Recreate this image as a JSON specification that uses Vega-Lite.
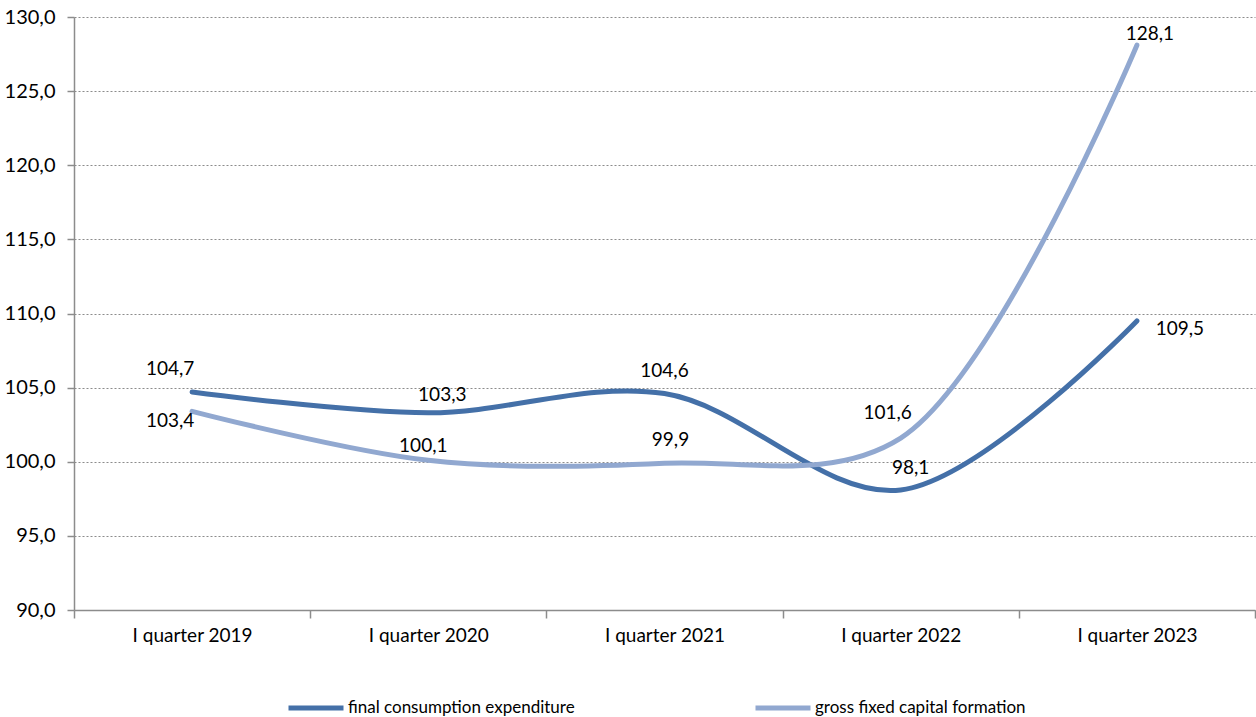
{
  "$schema": "https://vega.github.io/schema/vega-lite/v6.json",
  "width": 1181,
  "height": 593,
  "autosize": {"type": "none"},
  "padding": {"left": 74, "top": 17, "right": 1, "bottom": 107},
  "config": {
    "locale": {"number": {"decimal": ",", "thousands": ".", "grouping": [3], "currency": ["", " €"]}},
    "font": "Lato",
    "view": {"stroke": null},
    "axis": {"labelFont": "Lato", "labelColor": "#000000", "domainColor": "#8c8c8c", "tickColor": "#8c8c8c", "domainWidth": 1.5, "tickWidth": 1.5, "title": null}
  },
  "data": {
    "values": [
      {"quarter": "I quarter 2019", "series": "final consumption expenditure", "value": 104.7},
      {"quarter": "I quarter 2020", "series": "final consumption expenditure", "value": 103.3},
      {"quarter": "I quarter 2021", "series": "final consumption expenditure", "value": 104.6},
      {"quarter": "I quarter 2022", "series": "final consumption expenditure", "value": 98.1},
      {"quarter": "I quarter 2023", "series": "final consumption expenditure", "value": 109.5},
      {"quarter": "I quarter 2019", "series": "gross fixed capital formation", "value": 103.4},
      {"quarter": "I quarter 2020", "series": "gross fixed capital formation", "value": 100.1},
      {"quarter": "I quarter 2021", "series": "gross fixed capital formation", "value": 99.9},
      {"quarter": "I quarter 2022", "series": "gross fixed capital formation", "value": 101.6},
      {"quarter": "I quarter 2023", "series": "gross fixed capital formation", "value": 128.1}
    ]
  },
  "encoding": {
    "x": {
      "field": "quarter", "type": "nominal", "sort": null,
      "scale": {"type": "band", "paddingInner": 0, "paddingOuter": 0},
      "axis": {"labelAngle": 0, "tickBand": "extent", "tickSize": 8, "labelPadding": 8, "grid": false, "labelFontSize": 19}
    },
    "y": {
      "field": "value", "type": "quantitative",
      "scale": {"domain": [90, 130], "nice": false, "zero": false},
      "axis": {"values": [90, 95, 100, 105, 110, 115, 120, 125, 130], "format": ".1f", "tickSize": 7, "labelPadding": 12, "labelFontSize": 20,
        "grid": true, "gridColor": "#8c8c8c", "gridDash": [2, 2], "gridWidth": 1.2}
    }
  },
  "layer": [
    {
      "mark": {"type": "line", "interpolate": "catmull-rom", "strokeWidth": 5, "strokeCap": "round"},
      "encoding": {
        "color": {
          "field": "series", "type": "nominal",
          "scale": {"domain": ["final consumption expenditure", "gross fixed capital formation"], "range": ["#4470a8", "#91a8d0"]},
          "legend": {
            "title": null, "orient": "none", "direction": "horizontal", "legendX": 212, "legendY": 661,
            "symbolType": "stroke", "symbolSize": 3025, "symbolStrokeWidth": 5, "symbolOffset": 0,
            "labelOffset": 2, "labelFontSize": 17, "labelFont": "Lato", "labelColor": "#000000",
            "columnPadding": 170, "padding": 0, "labelLimit": 400
          }
        }
      }
    },
    {
      "transform": [{"filter": "datum.series == 'final consumption expenditure' && datum.quarter == 'I quarter 2019'"}],
      "mark": {"type": "text", "fontSize": 19, "dx": -22, "dy": -23, "color": "#000000"},
      "encoding": {"text": {"field": "value", "type": "quantitative", "format": ".1f"}}
    },
    {
      "transform": [{"filter": "datum.series == 'gross fixed capital formation' && datum.quarter == 'I quarter 2019'"}],
      "mark": {"type": "text", "fontSize": 19, "dx": -22, "dy": 10, "color": "#000000"},
      "encoding": {"text": {"field": "value", "type": "quantitative", "format": ".1f"}}
    },
    {
      "transform": [{"filter": "datum.series == 'final consumption expenditure' && datum.quarter == 'I quarter 2020'"}],
      "mark": {"type": "text", "fontSize": 19, "dx": 14, "dy": -18, "color": "#000000"},
      "encoding": {"text": {"field": "value", "type": "quantitative", "format": ".1f"}}
    },
    {
      "transform": [{"filter": "datum.series == 'gross fixed capital formation' && datum.quarter == 'I quarter 2020'"}],
      "mark": {"type": "text", "fontSize": 19, "dx": -5, "dy": -14, "color": "#000000"},
      "encoding": {"text": {"field": "value", "type": "quantitative", "format": ".1f"}}
    },
    {
      "transform": [{"filter": "datum.series == 'final consumption expenditure' && datum.quarter == 'I quarter 2021'"}],
      "mark": {"type": "text", "fontSize": 19, "dx": 0, "dy": -23, "color": "#000000"},
      "encoding": {"text": {"field": "value", "type": "quantitative", "format": ".1f"}}
    },
    {
      "transform": [{"filter": "datum.series == 'gross fixed capital formation' && datum.quarter == 'I quarter 2021'"}],
      "mark": {"type": "text", "fontSize": 19, "dx": 6, "dy": -23, "color": "#000000"},
      "encoding": {"text": {"field": "value", "type": "quantitative", "format": ".1f"}}
    },
    {
      "transform": [{"filter": "datum.series == 'final consumption expenditure' && datum.quarter == 'I quarter 2022'"}],
      "mark": {"type": "text", "fontSize": 19, "dx": 10, "dy": -22, "color": "#000000"},
      "encoding": {"text": {"field": "value", "type": "quantitative", "format": ".1f"}}
    },
    {
      "transform": [{"filter": "datum.series == 'gross fixed capital formation' && datum.quarter == 'I quarter 2022'"}],
      "mark": {"type": "text", "fontSize": 19, "dx": -13, "dy": -25, "color": "#000000"},
      "encoding": {"text": {"field": "value", "type": "quantitative", "format": ".1f"}}
    },
    {
      "transform": [{"filter": "datum.series == 'final consumption expenditure' && datum.quarter == 'I quarter 2023'"}],
      "mark": {"type": "text", "fontSize": 19, "dx": 43, "dy": 8, "color": "#000000"},
      "encoding": {"text": {"field": "value", "type": "quantitative", "format": ".1f"}}
    },
    {
      "transform": [{"filter": "datum.series == 'gross fixed capital formation' && datum.quarter == 'I quarter 2023'"}],
      "mark": {"type": "text", "fontSize": 19, "dx": 13, "dy": -11, "color": "#000000"},
      "encoding": {"text": {"field": "value", "type": "quantitative", "format": ".1f"}}
    }
  ]
}
